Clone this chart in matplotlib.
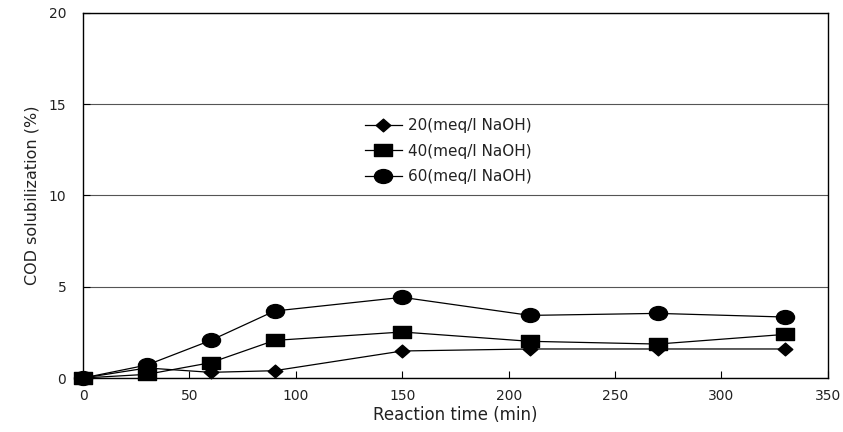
import matplotlib.pyplot as plt
from matplotlib.path import Path
from matplotlib.transforms import Affine2D

# reaction time (min) and COD solubilization (%) for each NaOH dose
time_min = [0, 30, 60, 90, 150, 210, 270, 330]
cod_20 = [0, 0.55, 0.31, 0.40, 1.48, 1.59, 1.59, 1.59]
cod_40 = [0, 0.20, 0.84, 2.06, 2.52, 2.01, 1.86, 2.39]
cod_60 = [0, 0.71, 2.06, 3.67, 4.42, 3.43, 3.54, 3.34]
labels = ['20(meq/l NaOH)', '40(meq/l NaOH)', '60(meq/l NaOH)']

# slightly widened marker shapes
ellipse = Path.unit_circle().transformed(Affine2D().scale(1.3, 1.0))
rect = Path([(-1.45, -1), (1.45, -1), (1.45, 1), (-1.45, 1), (-1.45, -1)],
            [Path.MOVETO, Path.LINETO, Path.LINETO, Path.LINETO, Path.CLOSEPOLY])
diamond = Path([(0, -1), (1.15, 0), (0, 1), (-1.15, 0), (0, -1)],
               [Path.MOVETO, Path.LINETO, Path.LINETO, Path.LINETO, Path.CLOSEPOLY])

plt.rcParams['font.family'] = 'DejaVu Sans'
txt_color = '#222222'

fig = plt.figure(figsize=(8.43, 4.32), dpi=100)
ax = fig.add_axes([0.0985, 0.125, 0.8835, 0.845])

markers = [diamond, rect, ellipse]
sizes = [10.5, 13.5, 13]
for vals, mk, ms, lab in zip([cod_20, cod_40, cod_60], markers, sizes, labels):
    ax.plot(time_min, vals, color='black', linewidth=0.9, marker=mk,
            markersize=ms, markerfacecolor='black', markeredgecolor='black',
            label=lab, clip_on=False)

ax.set_xlim(0, 350)
ax.set_ylim(0, 20)
ax.set_xticks(range(0, 351, 50))
ax.set_yticks(range(0, 21, 5))
ax.yaxis.grid(True, color='#555555', linewidth=0.8)
ax.set_axisbelow(True)
ax.tick_params(axis='x', direction='in', length=5, labelsize=10, pad=8,
               labelcolor=txt_color)
ax.tick_params(axis='y', direction='in', length=5, labelsize=10, pad=12,
               labelcolor=txt_color)
for sp in ax.spines.values():
    sp.set_linewidth(1.0)

ax.set_xlabel('Reaction time (min)', fontsize=12, labelpad=2, color=txt_color)
ax.set_ylabel('COD solubilization (%)', fontsize=11.5, labelpad=7, color=txt_color)

leg = ax.legend(loc='upper left', bbox_to_anchor=(0.36, 0.75), frameon=False,
                fontsize=11, handlelength=2.4, labelspacing=0.7, handletextpad=0.4)
for t in leg.get_texts():
    t.set_color(txt_color)

fig.savefig('out.png', dpi=100)
